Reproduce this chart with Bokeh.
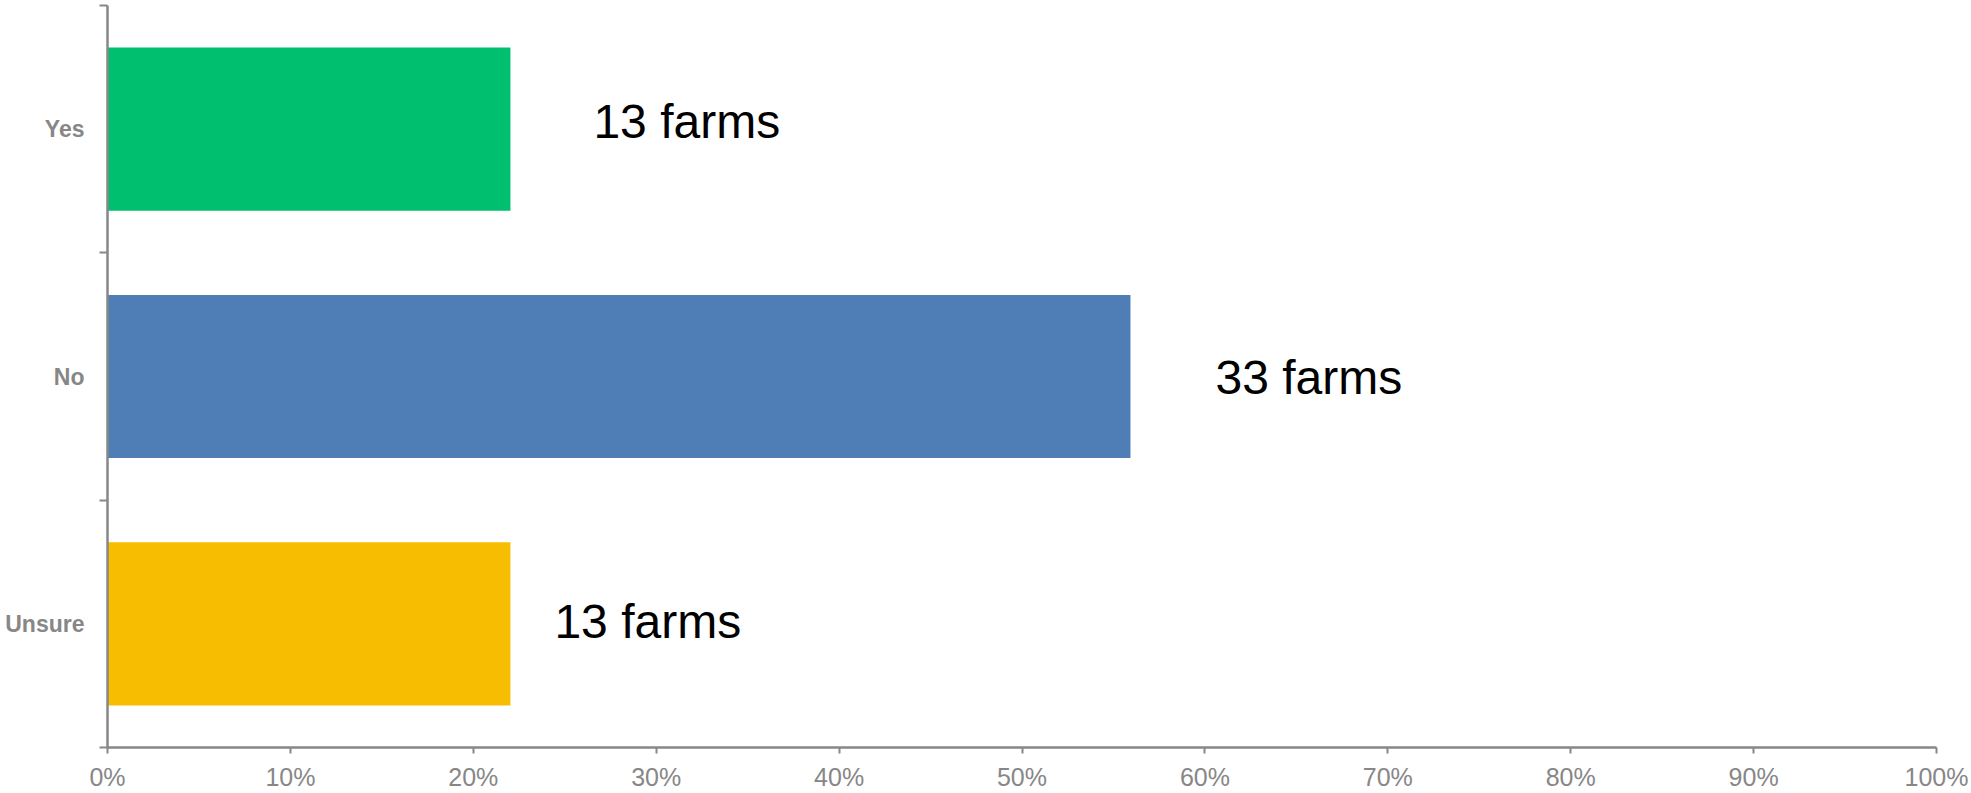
from bokeh.plotting import figure
from bokeh.models import ColumnDataSource, Range1d, LinearAxis, FixedTicker
from bokeh.core.properties import value
from bokeh.embed import file_html
from bokeh.resources import INLINE

# ---- data ----
categories = ["Yes", "No", "Unsure"]
farms = [13, 33, 13]
percent = [22.03, 55.93, 22.03]
colors = ["#00BF6F", "#4F7DB6", "#F7BD00"]
x_ticks = [0, 10, 20, 30, 40, 50, 60, 70, 80, 90, 100]
x_tick_labels = ["0%", "10%", "20%", "30%", "40%", "50%", "60%", "70%", "80%", "90%", "100%"]

n = len(categories)
y_pos = [n - i - 0.5 for i in range(n)]
labels = [f"{f} farms" for f in farms]
label_dx = [83, 85, 44]
label_dy = [-8, 1, -2]

src = ColumnDataSource(dict(cat=categories, pct=percent, y=y_pos, color=colors,
                            label=labels, dx=label_dx, dy=label_dy))

GRAY = "#878787"

p = figure(width=1971, height=793, output_backend="svg", toolbar_location=None,
           x_range=Range1d(0, 100), y_range=Range1d(0, n),
           x_axis_location=None, y_axis_location=None,
           min_border_left=107, min_border_right=35, min_border_top=5, min_border_bottom=45)
p.outline_line_color = None
p.xgrid.visible = False
p.ygrid.visible = False
p.background_fill_color = "white"
p.border_fill_color = "white"

p.hbar(y="y", left=0, right="pct", height=0.66, color="color", line_color=None, source=src)
p.text(x="pct", y="y", text="label", x_offset="dx", y_offset="dy", source=src,
       text_font=value("Liberation Sans"), text_font_size="48px", text_color="black",
       text_baseline="middle", text_align="left")

# x axis
xa = LinearAxis(ticker=FixedTicker(ticks=x_ticks),
                major_label_overrides={t: l for t, l in zip(x_ticks, x_tick_labels)})
xa.axis_line_color = GRAY
xa.axis_line_width = 2.5
xa.major_tick_line_color = GRAY
xa.major_tick_line_width = 2
xa.major_tick_in = 0
xa.major_tick_out = 6
xa.minor_tick_line_color = None
xa.major_label_text_color = GRAY
xa.major_label_text_font = "Liberation Sans"
xa.major_label_text_font_size = "25px"
xa.major_label_standoff = 9
p.add_layout(xa, "below")

# y axis: tick marks at category boundaries
ya = LinearAxis(ticker=FixedTicker(ticks=list(range(n + 1))),
                major_label_overrides={t: "" for t in range(n + 1)})
ya.axis_line_color = GRAY
ya.axis_line_width = 2.5
ya.major_tick_line_color = GRAY
ya.major_tick_line_width = 2
ya.major_tick_in = 0
ya.major_tick_out = 8
ya.minor_tick_line_color = None
ya.major_label_text_font_size = "1px"
ya.major_label_standoff = 0
p.add_layout(ya, "left")

# y axis: category labels at centers
yl = LinearAxis(ticker=FixedTicker(ticks=y_pos),
                major_label_overrides={y: c for y, c in zip(y_pos, categories)})
yl.axis_line_color = None
yl.major_tick_line_color = None
yl.minor_tick_line_color = None
yl.major_tick_in = 0
yl.major_tick_out = 0
yl.major_label_text_color = GRAY
yl.major_label_text_font = "Liberation Sans"
yl.major_label_text_font_style = "bold"
yl.major_label_text_font_size = "23px"
yl.major_label_standoff = 15
p.add_layout(yl, "left")

open("out.html", "w").write(file_html(p, INLINE))
